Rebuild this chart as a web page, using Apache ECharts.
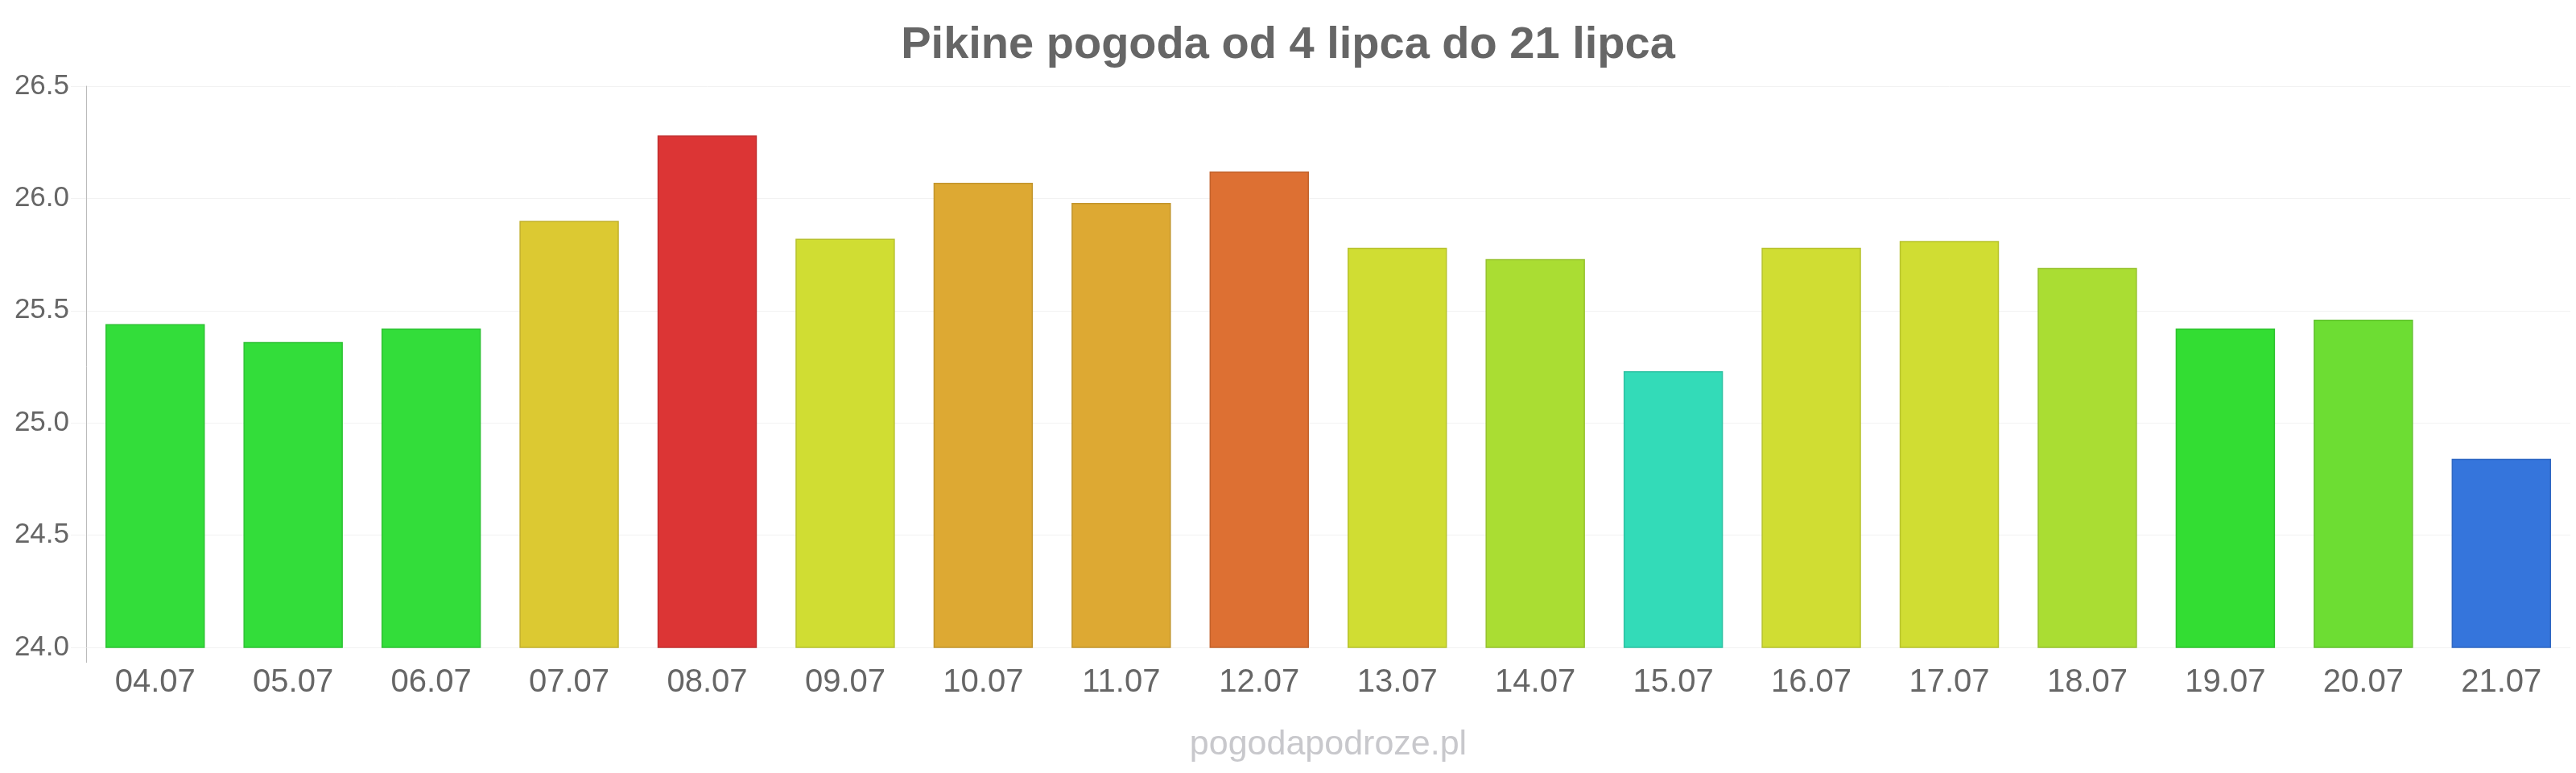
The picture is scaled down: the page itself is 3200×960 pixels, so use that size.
<!DOCTYPE html>
<html>
<head>
<meta charset="utf-8">
<title>Pikine pogoda</title>
<script src="https://cdn.jsdelivr.net/npm/echarts@6/dist/echarts.min.js"></script>
<style>
  html, body { margin: 0; padding: 0; background: #fff; }
  #chart { width: 3200px; height: 960px; }
</style>
</head>
<body>
<div id="chart"></div>
<script>
// dane
var days = ['04.07', '05.07', '06.07', '07.07', '08.07', '09.07', '10.07', '11.07', '12.07',
            '13.07', '14.07', '15.07', '16.07', '17.07', '18.07', '19.07', '20.07', '21.07'];
var temps = [25.44, 25.36, 25.42, 25.90, 26.28, 25.82, 26.07, 25.98, 26.12,
             25.78, 25.73, 25.23, 25.78, 25.81, 25.69, 25.42, 25.46, 24.84];
var yTicks = [24.0, 24.5, 25.0, 25.5, 26.0, 26.5];

// kolory słupków (skala temperatury)
var barColors = ['#33dd3a', '#33dd3a', '#33dd3a', '#dcc932', '#dc3535', '#d0dd33', '#dda933', '#dda933', '#dd7033',
                 '#d0dd33', '#aadd33', '#33dbb8', '#d0dd33', '#d0dd33', '#aadd33', '#33dd33', '#6ddd33', '#3575dc'];

function darker(hex) {
    var n = parseInt(hex.slice(1), 16);
    var r = Math.round(((n >> 16) & 255) * 0.88);
    var g = Math.round(((n >> 8) & 255) * 0.88);
    var b = Math.round((n & 255) * 0.88);
    return 'rgb(' + r + ',' + g + ',' + b + ')';
}

var myChart = echarts.init(document.getElementById('chart'));

var option = {
    animation: false,
    backgroundColor: '#fff',
    textStyle: { fontFamily: '"Liberation Sans", Arial, sans-serif' },
    title: {
        text: 'Pikine pogoda od 4 lipca do 21 lipca',
        left: 'center',
        top: 24,
        textStyle: { color: '#666', fontSize: 56, fontWeight: 'bold', fontFamily: '"Liberation Sans", Arial, sans-serif' }
    },
    grid: { left: 107, right: 7, top: 107, bottom: 156, containLabel: false },
    xAxis: {
        type: 'category',
        data: days,
        axisLine: { show: false },
        axisTick: { show: false },
        axisLabel: { color: '#666', fontSize: 40, margin: 24 }
    },
    yAxis: {
        type: 'value',
        min: yTicks[0],
        max: yTicks[yTicks.length - 1],
        interval: 0.5,
        axisLine: { show: true, lineStyle: { color: '#bbb', width: 1 } },
        axisTick: { show: true, length: 19, lineStyle: { color: '#f2f2f2' } },
        splitLine: { lineStyle: { color: '#f2f2f2', width: 1 } },
        axisLabel: {
            color: '#666', fontSize: 35, margin: 21,
            formatter: function (v) { return v.toFixed(1); }
        }
    },
    series: [{
        type: 'bar',
        barCategoryGap: '28%',
        data: temps.map(function (v, i) {
            return {
                value: v,
                itemStyle: { color: barColors[i], borderColor: darker(barColors[i]), borderWidth: 1.5 }
            };
        })
    }],
    graphic: [{
        type: 'text',
        x: 1650,
        y: 925,
        style: {
            text: 'pogodapodroze.pl',
            fill: '#c8c8cc',
            fontSize: 43,
            fontFamily: '"Liberation Sans", Arial, sans-serif',
            textAlign: 'center',
            textVerticalAlign: 'middle'
        }
    }]
};

myChart.setOption(option);

// przedłużenie osi Y pod linię 24.0 (pozycja z osi wykresu)
var c0 = myChart.convertToPixel({ xAxisIndex: 0 }, 0);
var c1 = myChart.convertToPixel({ xAxisIndex: 0 }, 1);
var axisX = Math.round(c0 - (c1 - c0) / 2) + 0.5;
var axisY = myChart.convertToPixel({ yAxisIndex: 0 }, yTicks[0]);
myChart.setOption({
    graphic: [{}, {
        type: 'line',
        shape: { x1: axisX, y1: axisY, x2: axisX, y2: axisY + 19 },
        style: { stroke: '#bbb', lineWidth: 1 }
    }]
});
</script>
</body>
</html>
